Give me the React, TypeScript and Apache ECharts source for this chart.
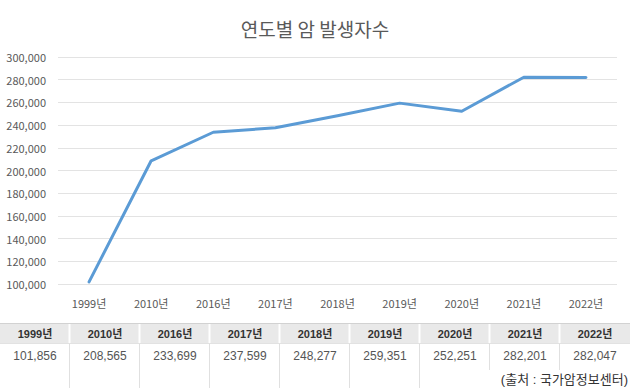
import React, { useEffect, useRef } from "react";
import * as echarts from "echarts";

const titleText = "연도별 암 발생자수";
const years = ["1999년", "2010년", "2016년", "2017년", "2018년", "2019년", "2020년", "2021년", "2022년"];
const cases = [101856, 208565, 233699, 237599, 248277, 259351, 252251, 282201, 282047];
const yMin = 100000;
const yMax = 300000;
const yStep = 20000;
const sourceText = "(출처 : 국가암정보센터)";

const fmt = (v: number) => v.toLocaleString("en-US");

export default function App() {
  const ref = useRef<HTMLDivElement>(null);
  useEffect(() => {
    if (!ref.current) return;
    const chart = echarts.init(ref.current, null, { renderer: "svg" });
    const W = 630;
    const colW = W / years.length;
    const headTop = 323;
    const headH = 20;
    const valTop = headTop + headH;
    const valH = 27;
    const tableFont = "'Liberation Sans', 'Noto Sans CJK KR', sans-serif";
    const graphics: any[] = [];
    graphics.push({ type: "rect", shape: { x: 0, y: headTop, width: W, height: headH }, style: { fill: "#e9e9e9" }, silent: true });
    graphics.push({ type: "line", shape: { x1: 0, y1: headTop + 0.5, x2: W, y2: headTop + 0.5 }, style: { stroke: "#d2d2d2", lineWidth: 1 } });
    graphics.push({ type: "line", shape: { x1: 0, y1: valTop + 0.5, x2: W, y2: valTop + 0.5 }, style: { stroke: "#e2e2e2", lineWidth: 1 } });
    for (let i = 1; i < years.length; i++) {
      const x = Math.round(i * colW) - 0.5;
      graphics.push({ type: "line", shape: { x1: x, y1: headTop + 1, x2: x, y2: valTop }, style: { stroke: "#ffffff", lineWidth: 2 } });
      const bottom = i <= 6 ? 388 : valTop + valH;
      graphics.push({ type: "line", shape: { x1: x, y1: valTop + 1, x2: x, y2: bottom }, style: { stroke: "#e0e0e0", lineWidth: 1 } });
    }
    years.forEach((y, i) => {
      const cx = i * colW + colW / 2;
      graphics.push({
        type: "text",
        x: cx,
        y: headTop + headH / 2 + 0.5,
        style: { text: y, fill: "#333333", font: `bold 11px ${tableFont}`, textAlign: "center", textVerticalAlign: "middle" },
      });
      graphics.push({
        type: "text",
        x: cx,
        y: valTop + 13,
        style: { text: fmt(cases[i]), fill: "#555555", font: `12px ${tableFont}`, textAlign: "center", textVerticalAlign: "middle" },
      });
    });
    graphics.push({
      type: "text",
      x: 628,
      y: 379,
      style: { text: sourceText, fill: "#333333", font: `13px ${tableFont}`, textAlign: "right", textVerticalAlign: "middle" },
    });

    chart.setOption({
      animation: false,
      backgroundColor: "#ffffff",
      title: {
        text: titleText,
        left: "center",
        top: 14,
        textStyle: { fontSize: 19, fontWeight: "normal", color: "#595959", fontFamily: "'Noto Sans CJK KR', sans-serif" },
      },
      grid: { left: 58, right: 13, top: 57, bottom: 104 },
      xAxis: {
        type: "category",
        data: years,
        boundaryGap: true,
        axisLine: { show: false },
        axisTick: { show: false },
        axisLabel: { color: "#595959", fontSize: 11, margin: 13, fontFamily: "'Noto Sans CJK KR', sans-serif" },
      },
      yAxis: {
        type: "value",
        min: yMin,
        max: yMax,
        interval: yStep,
        axisLine: { show: false },
        axisTick: { show: false },
        splitLine: { lineStyle: { color: "#e3e3e3", width: 1 } },
        axisLabel: { color: "#595959", fontSize: 11, margin: 12, formatter: (v: number) => fmt(v), fontFamily: "'Noto Sans CJK KR', sans-serif" },
      },
      series: [
        {
          type: "line",
          data: cases,
          showSymbol: false,
          symbol: "none",
          lineStyle: { color: "#5b9bd5", width: 3, cap: "round", join: "round" },
          itemStyle: { color: "#5b9bd5" },
        },
      ],
      graphic: graphics,
    });
    return () => chart.dispose();
  }, []);
  return (
    <div style={{ position: "absolute", left: 0, top: 0, width: 630, height: 388, background: "#fff" }}>
      <div ref={ref} style={{ width: 630, height: 388 }} />
    </div>
  );
}
